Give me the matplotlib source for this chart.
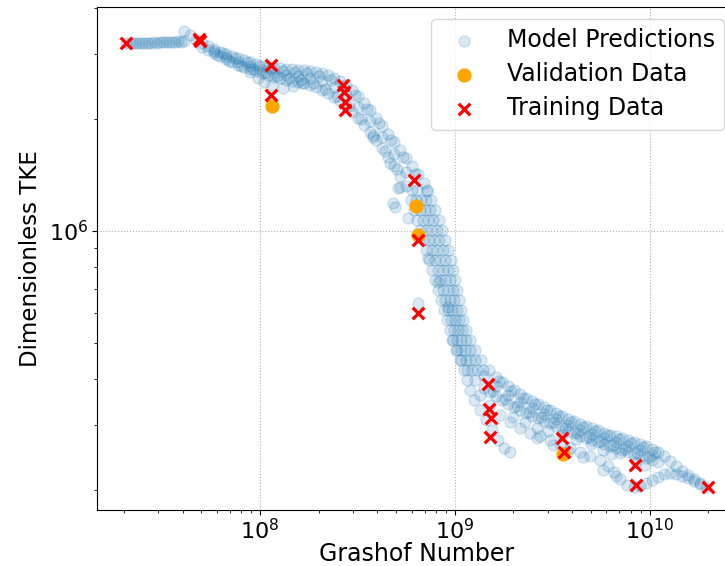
"""
Dimensionless TKE against Grashof number: model predictions compared with
the training and validation cases, on log-log axes.
"""
import numpy as np
import matplotlib
matplotlib.use("Agg")
import matplotlib.pyplot as plt
from matplotlib.ticker import NullFormatter

FONTSIZE = 16

# model predictions, stored as log10 values (upper edge of the band)
pred_upper_lgr = [
    7.312, 7.333, 7.364, 7.394, 7.425, 7.456, 7.487, 7.518, 7.548, 7.579,
    7.610, 7.610, 7.641, 7.671, 7.702, 7.733, 7.764, 7.795, 7.825, 7.856,
    7.887, 7.918, 7.949, 7.979, 8.010, 8.041, 8.072, 8.103, 8.133, 8.164,
    8.195, 8.226, 8.257, 8.287, 8.318, 8.349, 8.380, 8.411, 8.441, 8.472,
    8.503, 8.534, 8.565, 8.595, 8.626, 8.657, 8.688, 8.719, 8.749, 8.780,
    8.811, 8.842, 8.857, 8.878, 8.898, 8.919, 8.934, 8.950, 8.965, 8.980,
    8.991, 9.001, 9.011, 9.022, 9.032, 9.042, 9.057, 9.078, 9.104, 9.134,
    9.176, 9.211, 9.242, 9.273, 9.304, 9.335, 9.365, 9.396, 9.427, 9.458,
    9.489, 9.519, 9.550, 9.581, 9.612, 9.643, 9.673, 9.704, 9.735, 9.766,
    9.797, 9.827, 9.858, 9.889, 9.920, 9.951, 9.981, 10.012, 10.043, 10.074,
    10.105, 10.135, 10.166, 10.197, 10.228, 10.259, 10.289,
    7.348, 7.379, 7.410, 7.440, 7.471, 7.502, 7.533, 7.564, 7.594,
]
pred_upper_ltke = [
    6.507, 6.507, 6.507, 6.507, 6.507, 6.509, 6.509, 6.509, 6.509, 6.512,
    6.512, 6.539, 6.528, 6.515, 6.507, 6.499, 6.491, 6.482, 6.477, 6.472,
    6.466, 6.461, 6.456, 6.450, 6.445, 6.442, 6.439, 6.439, 6.437, 6.437,
    6.434, 6.434, 6.431, 6.429, 6.426, 6.420, 6.412, 6.404, 6.394, 6.380,
    6.364, 6.345, 6.326, 6.305, 6.283, 6.261, 6.240, 6.218, 6.197, 6.175,
    6.154, 6.129, 6.111, 6.084, 6.057, 6.030, 6.003, 5.976, 5.949, 5.922,
    5.895, 5.868, 5.841, 5.814, 5.787, 5.760, 5.733, 5.706, 5.679, 5.652,
    5.625, 5.607, 5.593, 5.582, 5.571, 5.561, 5.550, 5.542, 5.534, 5.526,
    5.518, 5.509, 5.501, 5.493, 5.488, 5.480, 5.474, 5.469, 5.464, 5.456,
    5.450, 5.447, 5.442, 5.437, 5.431, 5.426, 5.420, 5.412, 5.404, 5.394,
    5.380, 5.367, 5.353, 5.342, 5.332, 5.321, 5.310,
    6.507, 6.507, 6.507, 6.507, 6.508, 6.509, 6.509, 6.510, 6.511,
]

# between the upper edge and the middle
pred_upmid_lgr = [
    7.810, 7.871, 7.933, 7.994, 8.056, 8.118, 8.179, 8.241, 8.302, 8.364,
    8.426, 8.487, 8.549, 8.610, 8.672, 8.734, 8.795, 8.857,
    8.853, 8.873, 8.890, 8.906, 8.921, 8.937, 8.952, 8.965, 8.976, 8.988,
    8.998, 9.009, 9.022, 9.037, 9.055, 9.078, 9.106, 9.145,
    9.226, 9.288, 9.350, 9.411, 9.473, 9.534, 9.596, 9.658, 9.719, 9.781,
    9.842, 9.904, 9.966, 10.027,
]
pred_upmid_ltke = [
    6.480, 6.467, 6.456, 6.445, 6.436, 6.431, 6.428, 6.425, 6.419, 6.408,
    6.391, 6.366, 6.330, 6.290, 6.246, 6.201, 6.155, 6.107,
    6.084, 6.057, 6.030, 6.003, 5.976, 5.949, 5.922, 5.895, 5.868, 5.841,
    5.814, 5.787, 5.760, 5.733, 5.706, 5.679, 5.652, 5.625,
    5.595, 5.570, 5.550, 5.533, 5.517, 5.501, 5.485, 5.472, 5.461, 5.449,
    5.439, 5.429, 5.418, 5.404,
]

# middle of the band
pred_mid_lgr = [
    7.764, 7.825, 7.887, 7.949, 8.010, 8.072, 8.133, 8.195, 8.257, 8.318,
    8.380, 8.441, 8.503, 8.565, 8.626, 8.688, 8.749, 8.806, 8.827, 8.847,
    8.862, 8.878, 8.893, 8.909, 8.924, 8.939, 8.950, 8.965, 8.975, 8.986,
    9.001, 9.016, 9.032, 9.052, 9.078, 9.114, 9.150, 9.211, 9.273, 9.335,
    9.396, 9.458, 9.519, 9.581, 9.643, 9.704, 9.766, 9.827, 9.889, 9.951,
    10.012,
]
pred_mid_ltke = [
    6.485, 6.469, 6.456, 6.445, 6.434, 6.426, 6.420, 6.418, 6.412, 6.404,
    6.388, 6.367, 6.334, 6.296, 6.253, 6.208, 6.159, 6.111, 6.084, 6.057,
    6.030, 6.003, 5.976, 5.949, 5.922, 5.895, 5.868, 5.841, 5.814, 5.787,
    5.760, 5.733, 5.706, 5.679, 5.652, 5.625, 5.609, 5.582, 5.558, 5.539,
    5.523, 5.507, 5.493, 5.477, 5.464, 5.453, 5.442, 5.431, 5.420, 5.410,
    5.396,
]

# between the middle and the lower edge
pred_midlow_lgr = [
    7.780, 7.841, 7.903, 7.964, 8.026, 8.088, 8.149, 8.211, 8.272, 8.334,
    8.396, 8.457, 8.519, 8.580, 8.642, 8.704,
    8.781, 8.801, 8.819, 8.834, 8.850, 8.865, 8.881, 8.896, 8.911, 8.924,
    8.940, 8.952, 8.966, 8.981, 8.996, 9.012, 9.032, 9.055, 9.089,
    9.196, 9.258, 9.320, 9.381, 9.443, 9.504, 9.566, 9.628, 9.689, 9.751,
    9.812, 9.874, 9.936, 9.997,
]
pred_midlow_ltke = [
    6.475, 6.459, 6.446, 6.436, 6.425, 6.418, 6.412, 6.407, 6.398, 6.384,
    6.364, 6.336, 6.301, 6.260, 6.215, 6.166,
    6.111, 6.084, 6.057, 6.030, 6.003, 5.976, 5.949, 5.922, 5.895, 5.868,
    5.841, 5.814, 5.787, 5.760, 5.733, 5.706, 5.679, 5.652, 5.625,
    5.569, 5.546, 5.529, 5.512, 5.498, 5.484, 5.469, 5.456, 5.445, 5.434,
    5.423, 5.412, 5.402, 5.390,
]

# lower edge of the band
pred_lower_lgr = [
    7.702, 7.733, 7.764, 7.795, 7.825, 7.856, 7.887, 7.918, 7.949, 7.979,
    8.010, 8.041, 8.072, 8.103, 8.133, 8.164, 8.195, 8.226, 8.257, 8.287,
    8.318, 8.349, 8.380, 8.411, 8.441, 8.472, 8.503, 8.534, 8.565, 8.595,
    8.626, 8.657, 8.688, 8.719, 8.749, 8.775, 8.791, 8.806, 8.821, 8.837,
    8.852, 8.868, 8.883, 8.898, 8.914, 8.929, 8.945, 8.960, 8.975, 8.991,
    9.011, 9.032, 9.063, 9.104, 9.150, 9.181, 9.211, 9.242, 9.273, 9.304,
    9.335, 9.365, 9.396, 9.427, 9.458, 9.489, 9.519, 9.550, 9.581, 9.612,
    9.643, 9.673, 9.704, 9.735, 9.766, 9.797, 9.827, 9.858, 9.889, 9.920,
    9.951, 9.981, 10.012, 10.043,
]
pred_lower_ltke = [
    6.496, 6.488, 6.480, 6.472, 6.464, 6.456, 6.447, 6.442, 6.437, 6.431,
    6.426, 6.420, 6.415, 6.412, 6.407, 6.404, 6.402, 6.399, 6.394, 6.388,
    6.380, 6.372, 6.361, 6.350, 6.337, 6.321, 6.305, 6.286, 6.267, 6.245,
    6.224, 6.199, 6.175, 6.148, 6.121, 6.084, 6.057, 6.030, 6.003, 5.976,
    5.949, 5.922, 5.895, 5.868, 5.841, 5.814, 5.787, 5.760, 5.733, 5.706,
    5.679, 5.652, 5.625, 5.598, 5.577, 5.566, 5.555, 5.544, 5.534, 5.526,
    5.518, 5.509, 5.501, 5.496, 5.488, 5.483, 5.474, 5.469, 5.461, 5.456,
    5.447, 5.442, 5.437, 5.431, 5.426, 5.420, 5.415, 5.410, 5.404, 5.399,
    5.394, 5.388, 5.383, 5.377,
]

# scattered predictions off the main band
pred_spread_lgr = [
    8.986, 9.006, 9.027, 9.047, 9.063, 9.078, 9.099, 9.129, 9.160, 9.191,
    9.222, 9.253, 9.283,
    9.129, 9.181, 9.232, 9.283, 9.335, 9.386, 9.437, 9.489, 9.540, 9.591,
    9.643, 9.694, 9.745, 9.786, 9.817, 9.848, 9.884, 9.920, 9.951, 9.981,
    10.012, 10.043, 10.074, 10.105, 10.135, 10.166, 10.197, 10.228, 10.259,
    9.422, 9.504, 9.581, 9.658, 9.761, 9.827, 9.848, 9.930, 9.976,
    9.300, 9.360, 9.420, 9.480, 9.550, 9.620, 9.700, 9.760, 9.800,
    7.949, 7.990, 8.021, 8.062, 8.118, 8.169, 8.216,
    8.708, 8.693, 8.760, 8.811, 8.580, 8.667, 8.719, 8.683,
    8.862, 8.914, 8.965,
]
pred_spread_ltke = [
    5.706, 5.679, 5.652, 5.625, 5.598, 5.571, 5.544, 5.518, 5.491, 5.464,
    5.437, 5.415, 5.404,
    5.558, 5.531, 5.504, 5.485, 5.469, 5.456, 5.447, 5.437, 5.426, 5.415,
    5.404, 5.394, 5.383, 5.367, 5.350, 5.332, 5.315, 5.310, 5.313, 5.321,
    5.329, 5.337, 5.345, 5.348, 5.345, 5.340, 5.334, 5.326, 5.318,
    5.442, 5.423, 5.407, 5.391, 5.356, 5.340, 5.402, 5.377, 5.369,
    5.500, 5.485, 5.470, 5.460, 5.450, 5.440, 5.425, 5.410, 5.400,
    6.429, 6.412, 6.402, 6.394, 6.385, 6.391, 6.399,
    6.116, 6.065, 6.035, 5.806, 6.253, 6.183, 6.119, 6.075,
    5.927, 5.863, 5.795,
]

# training cases (log10)
train_lgr = [
    7.312, 7.687, 7.692, 8.056, 8.056, 8.426, 8.431, 8.436, 8.436, 8.791,
    8.811, 8.811, 9.170, 9.176, 9.186, 9.181, 9.550, 9.561, 9.925, 9.930,
    10.300,
]
train_ltke = [
    6.507, 6.518, 6.512, 6.447, 6.367, 6.394, 6.375, 6.348, 6.326, 6.137,
    5.976, 5.779, 5.588, 5.520, 5.496, 5.445, 5.442, 5.404, 5.369, 5.315,
    5.310,
]

# validation cases (log10)
valid_lgr = [8.062, 8.801, 8.811, 9.555]
valid_ltke = [6.337, 6.067, 5.989, 5.399]


def main():
    """ main
    """
    pred_gr = 10 ** np.concatenate(
        [pred_upper_lgr, pred_upmid_lgr, pred_mid_lgr, pred_midlow_lgr,
         pred_lower_lgr, pred_spread_lgr])
    pred_tke = 10 ** np.concatenate(
        [pred_upper_ltke, pred_upmid_ltke, pred_mid_ltke, pred_midlow_ltke,
         pred_lower_ltke, pred_spread_ltke])

    fig = plt.figure(figsize=(7.25, 5.66), dpi=100)
    ax = fig.add_axes([0.1338, 0.0989, 0.8814, 0.8887])

    ax.scatter(pred_gr, pred_tke, s=64, color="C0", alpha=0.17,
               label="Model Predictions")
    ax.scatter(10 ** np.array(valid_lgr), 10 ** np.array(valid_ltke),
               s=85, color="orange", label="Validation Data", zorder=3)
    ax.scatter(10 ** np.array(train_lgr), 10 ** np.array(train_ltke),
               s=70, marker="x", color="red", linewidths=2.3,
               label="Training Data", zorder=4)

    ax.set_xscale("log")
    ax.set_yscale("log")
    ax.set_xlim(10 ** 7.163, 10 ** 10.4435)
    ax.set_ylim(10 ** 5.248, 10 ** 6.604)
    ax.yaxis.set_minor_formatter(NullFormatter())
    ax.xaxis.set_minor_formatter(NullFormatter())

    ax.grid(True, which="major", linestyle=":", color="#b0b0b0", linewidth=0.8)
    ax.tick_params(labelsize=FONTSIZE, pad=2.5)
    ax.set_xlabel("Grashof Number", fontsize=17, labelpad=-1)
    ax.set_ylabel("Dimensionless TKE", fontsize=16.5, labelpad=5)
    ax.legend(loc="upper right", fontsize=17, labelspacing=0.42)

    fig.savefig("out.png", dpi=100)
    plt.close(fig)


if __name__ == '__main__':
    main()
